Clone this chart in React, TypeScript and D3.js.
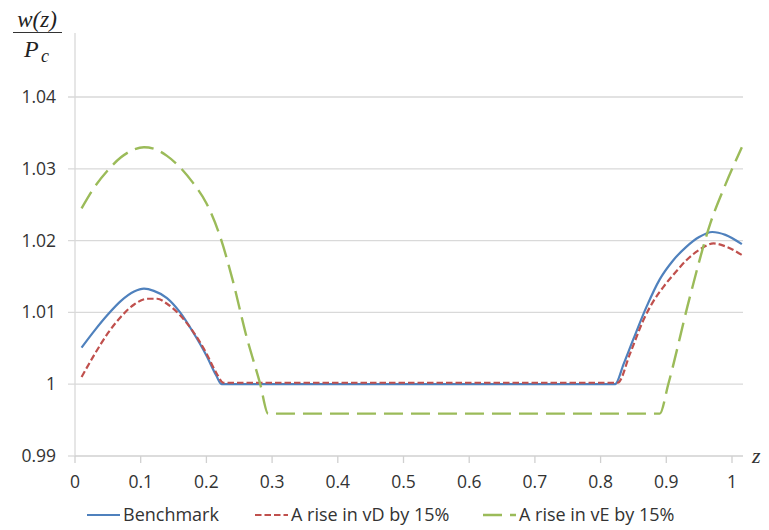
import React from "react";
import * as d3 from "d3";

const benchZ = [0.01, 0.03, 0.05, 0.07, 0.09, 0.105, 0.12, 0.14, 0.16, 0.18, 0.2, 0.215, 0.223, 0.822, 0.835, 0.85, 0.87, 0.89, 0.91, 0.93, 0.95, 0.97, 0.99, 1.015];
const benchV = [1.0051, 1.0075, 1.0097, 1.0116, 1.0129, 1.0133, 1.013, 1.012, 1.01, 1.0072, 1.004, 1.0012, 1.0, 1.0, 1.0028, 1.0063, 1.0108, 1.0146, 1.0172, 1.0191, 1.0205, 1.0212, 1.0208, 1.0195];

const vdZ = [0.01, 0.03, 0.05, 0.07, 0.09, 0.11, 0.125, 0.14, 0.16, 0.18, 0.2, 0.215, 0.226, 0.826, 0.845, 0.865, 0.88, 0.896, 0.915, 0.931, 0.95, 0.972, 0.99, 1.015];
const vdV = [1.001, 1.0042, 1.0071, 1.0094, 1.0111, 1.0119, 1.0119, 1.0112, 1.0096, 1.0073, 1.0043, 1.0016, 1.0002, 1.0002, 1.0043, 1.0089, 1.0115, 1.0136, 1.0157, 1.0173, 1.0187, 1.0196, 1.0192, 1.018];

const veZ = [0.01, 0.03, 0.05, 0.07, 0.09, 0.105, 0.12, 0.14, 0.16, 0.18, 0.2, 0.22, 0.24, 0.26, 0.282, 0.294, 0.89, 0.903, 0.936, 0.967, 0.99, 1.015];
const veV = [1.0245, 1.0275, 1.0298, 1.0316, 1.0327, 1.033, 1.0328, 1.0318, 1.0302, 1.028, 1.0252, 1.0208, 1.0145, 1.007, 1.0, 0.9959, 0.9959, 1.0, 1.0122, 1.0224, 1.0278, 1.033];

const xTicks = [0, 0.1, 0.2, 0.3, 0.4, 0.5, 0.6, 0.7, 0.8, 0.9, 1];
const yTicks = [0.99, 1, 1.01, 1.02, 1.03, 1.04];
const yTickLabels = ["0.99", "1", "1.01", "1.02", "1.03", "1.04"];
const seriesNames = ["Benchmark", "A rise in vD by 15%", "A rise in vE by 15%"];

const FONT = "'Open Sans', sans-serif";
const SERIF = "'Liberation Serif', serif";

export default function App() {
  const x = d3.scaleLinear().domain([0, 1]).range([75, 732]);
  const y = d3.scaleLinear().domain([0.99, 1.04]).range([456, 97]);
  const line = d3
    .line<[number, number]>()
    .x((d) => x(d[0]))
    .y((d) => y(d[1]))
    .curve(d3.curveMonotoneX);
  const mk = (zs: number[], vs: number[]) => line(zs.map((z, i) => [z, vs[i]] as [number, number])) || "";

  const series = [
    { d: mk(benchZ, benchV), color: "#4f81bd", dash: "none", w: 2.2 },
    { d: mk(vdZ, vdV), color: "#c0504d", dash: "6.5 3", w: 2.2 },
    { d: mk(veZ, veV), color: "#9bbb59", dash: "19 8", w: 2.4 },
  ];
  const legendX = [87, 255, 483];

  return (
    <svg width={769} height={530} style={{ position: "absolute", left: 0, top: 0, background: "#fff" }}>
      {yTicks.slice(1).map((t) => (
        <line key={t} x1={68} x2={743} y1={y(t)} y2={y(t)} stroke="#d9d9d9" strokeWidth={1.3} />
      ))}
      <line x1={75} x2={75} y1={33} y2={456} stroke="#d9d9d9" strokeWidth={1.3} />
      <line x1={68} x2={75} y1={456} y2={456} stroke="#d9d9d9" strokeWidth={1.3} />
      <line x1={75} x2={743} y1={456} y2={456} stroke="#d0d0d0" strokeWidth={1.3} />
      {xTicks.map((t) => (
        <line key={t} x1={x(t)} x2={x(t)} y1={456} y2={463} stroke="#d0d0d0" strokeWidth={1.3} />
      ))}
      {xTicks.map((t) => (
        <text key={t} x={x(t)} y={488} textAnchor="middle" fontFamily={FONT} fontSize={17.5} fill="#333">
          {String(t)}
        </text>
      ))}
      {yTicks.map((t, i) => (
        <text key={t} x={56} y={y(t) + 6} textAnchor="end" fontFamily={FONT} fontSize={17.5} fill="#333">
          {yTickLabels[i]}
        </text>
      ))}
      {series.map((s, i) => (
        <path key={i} d={s.d} fill="none" stroke={s.color} strokeWidth={s.w} strokeDasharray={s.dash} />
      ))}
      <text x={37} y={27} textAnchor="middle" fontFamily={SERIF} fontStyle="italic" fontSize={23} fill="#222">
        w(z)
      </text>
      <line x1={13} x2={62} y1={32.5} y2={32.5} stroke="#333" strokeWidth={1.2} />
      <text x={24} y={57} fontFamily={SERIF} fontStyle="italic" fontSize={24} fill="#222">
        P
      </text>
      <text x={41} y={62} fontFamily={SERIF} fontStyle="italic" fontSize={18} fill="#222">
        c
      </text>
      <text x={752} y={463} fontFamily={SERIF} fontStyle="italic" fontSize={22} fill="#333">
        z
      </text>
      {series.map((s, i) => (
        <g key={i}>
          <line x1={legendX[i]} x2={legendX[i] + 33} y1={515} y2={515} stroke={s.color} strokeWidth={s.w} strokeDasharray={s.dash} />
          <text x={legendX[i] + 36} y={521} fontFamily={FONT} fontSize={18} fill="#333">
            {seriesNames[i]}
          </text>
        </g>
      ))}
    </svg>
  );
}
